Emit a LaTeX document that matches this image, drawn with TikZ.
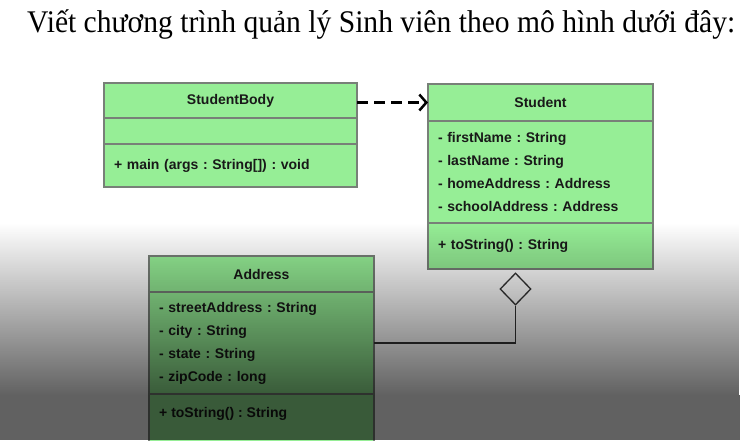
\documentclass[tikz,border=0pt]{standalone}
\usepackage{fontspec}
\setmainfont{Liberation Serif}
\newfontfamily\umlfont{Liberation Sans}
\usepackage{tikz}
\usetikzlibrary{arrows.meta,shapes.geometric,fadings,positioning}
\definecolor{umlgreen}{RGB}{150,238,150}
\definecolor{umlline}{RGB}{120,128,120}
\definecolor{umlink}{RGB}{25,25,25}
\newcommand{\umltext}{\umlfont\bfseries\fontsize{14}{23}\selectfont\frenchspacing}
\tikzfading[name=screenfade, top color=transparent!100, bottom color=transparent!0]

\begin{document}
\begin{tikzpicture}[x=1pt,y=-1pt,
    part/.style={draw=umlline, line width=1.5pt, fill=umlgreen, anchor=north west,
                 outer sep=0pt, inner xsep=10pt, inner ysep=0pt, text=umlink, font=\umltext},
    head/.style={part, align=center},
    members/.style={part, align=left},
    dep/.style={line width=3pt, dash pattern=on 11pt off 6pt, draw=black,
                -{Straight Barb[length=7pt,width=16pt,line width=2.5pt]}},
    aggr/.style={diamond, draw=black!80, line width=1.3pt, inner sep=0pt,
                 minimum width=31pt, minimum height=32pt}]
       \useasboundingbox (0,0) rectangle (740,440);
       \fill[white] (0,0) rectangle (740,440);
       \node[anchor=base west, inner sep=0pt, font=\fontsize{31.5}{38}\selectfont] (title) at (27,32)
            {\resizebox{708pt}{\height}{Viết chương trình quản lý Sinh viên theo mô hình dưới đây:}};
       % StudentBody
       \node[head, text width=233pt, minimum height=35pt] (sb-head) at (104,83) {StudentBody};
       \node[members, text width=233pt, minimum height=26pt] (sb-attr) at (sb-head.south west) {};
       \node[members, text width=233pt, minimum height=43pt] (sb-ops) at (sb-attr.south west)
            {+ main (args : String[]) : void};
       % Student
       \node[head, text width=205pt, minimum height=37pt] (st-head) at (428,84) {Student};
       \node[members, text width=205pt, minimum height=102pt] (st-attr) at (st-head.south west)
            {- firstName : String\\ - lastName : String\\ - homeAddress : Address\\ - schoolAddress : Address};
       \node[members, text width=205pt, minimum height=46pt] (st-ops) at (st-attr.south west)
            {+ toString() : String};
       % Address
       \node[head, text width=205pt, minimum height=36pt] (ad-head) at (149,256) {Address};
       \node[members, text width=205pt, minimum height=102pt] (ad-attr) at (ad-head.south west)
            {- streetAddress : String\\ - city : String\\ - state : String\\ - zipCode : long};
       \node[members, text width=205pt, minimum height=60pt] (ad-ops) at (ad-attr.south west) {};
       \node[anchor=west, inner sep=0pt, text=umlink, font=\umltext] (ad-tostring)
            at ([xshift=10pt,yshift=-20pt]ad-ops.north west) {+ toString() : String};
       % relations
       \draw[dep] (sb-head.east |- st-head.west) -- (st-head.west);
       \node[aggr] (agg) at (515.5,289) {};
       \draw[black!80, line width=1.3pt] (agg.south) |- (ad-attr.east);
       % darkening at the bottom of the screen
       \fill[black, opacity=0.62, path fading=screenfade] (0,223) rectangle (740,395);
       \fill[black, opacity=0.62] (0,395) rectangle (740,440);
\end{tikzpicture}
\end{document}
